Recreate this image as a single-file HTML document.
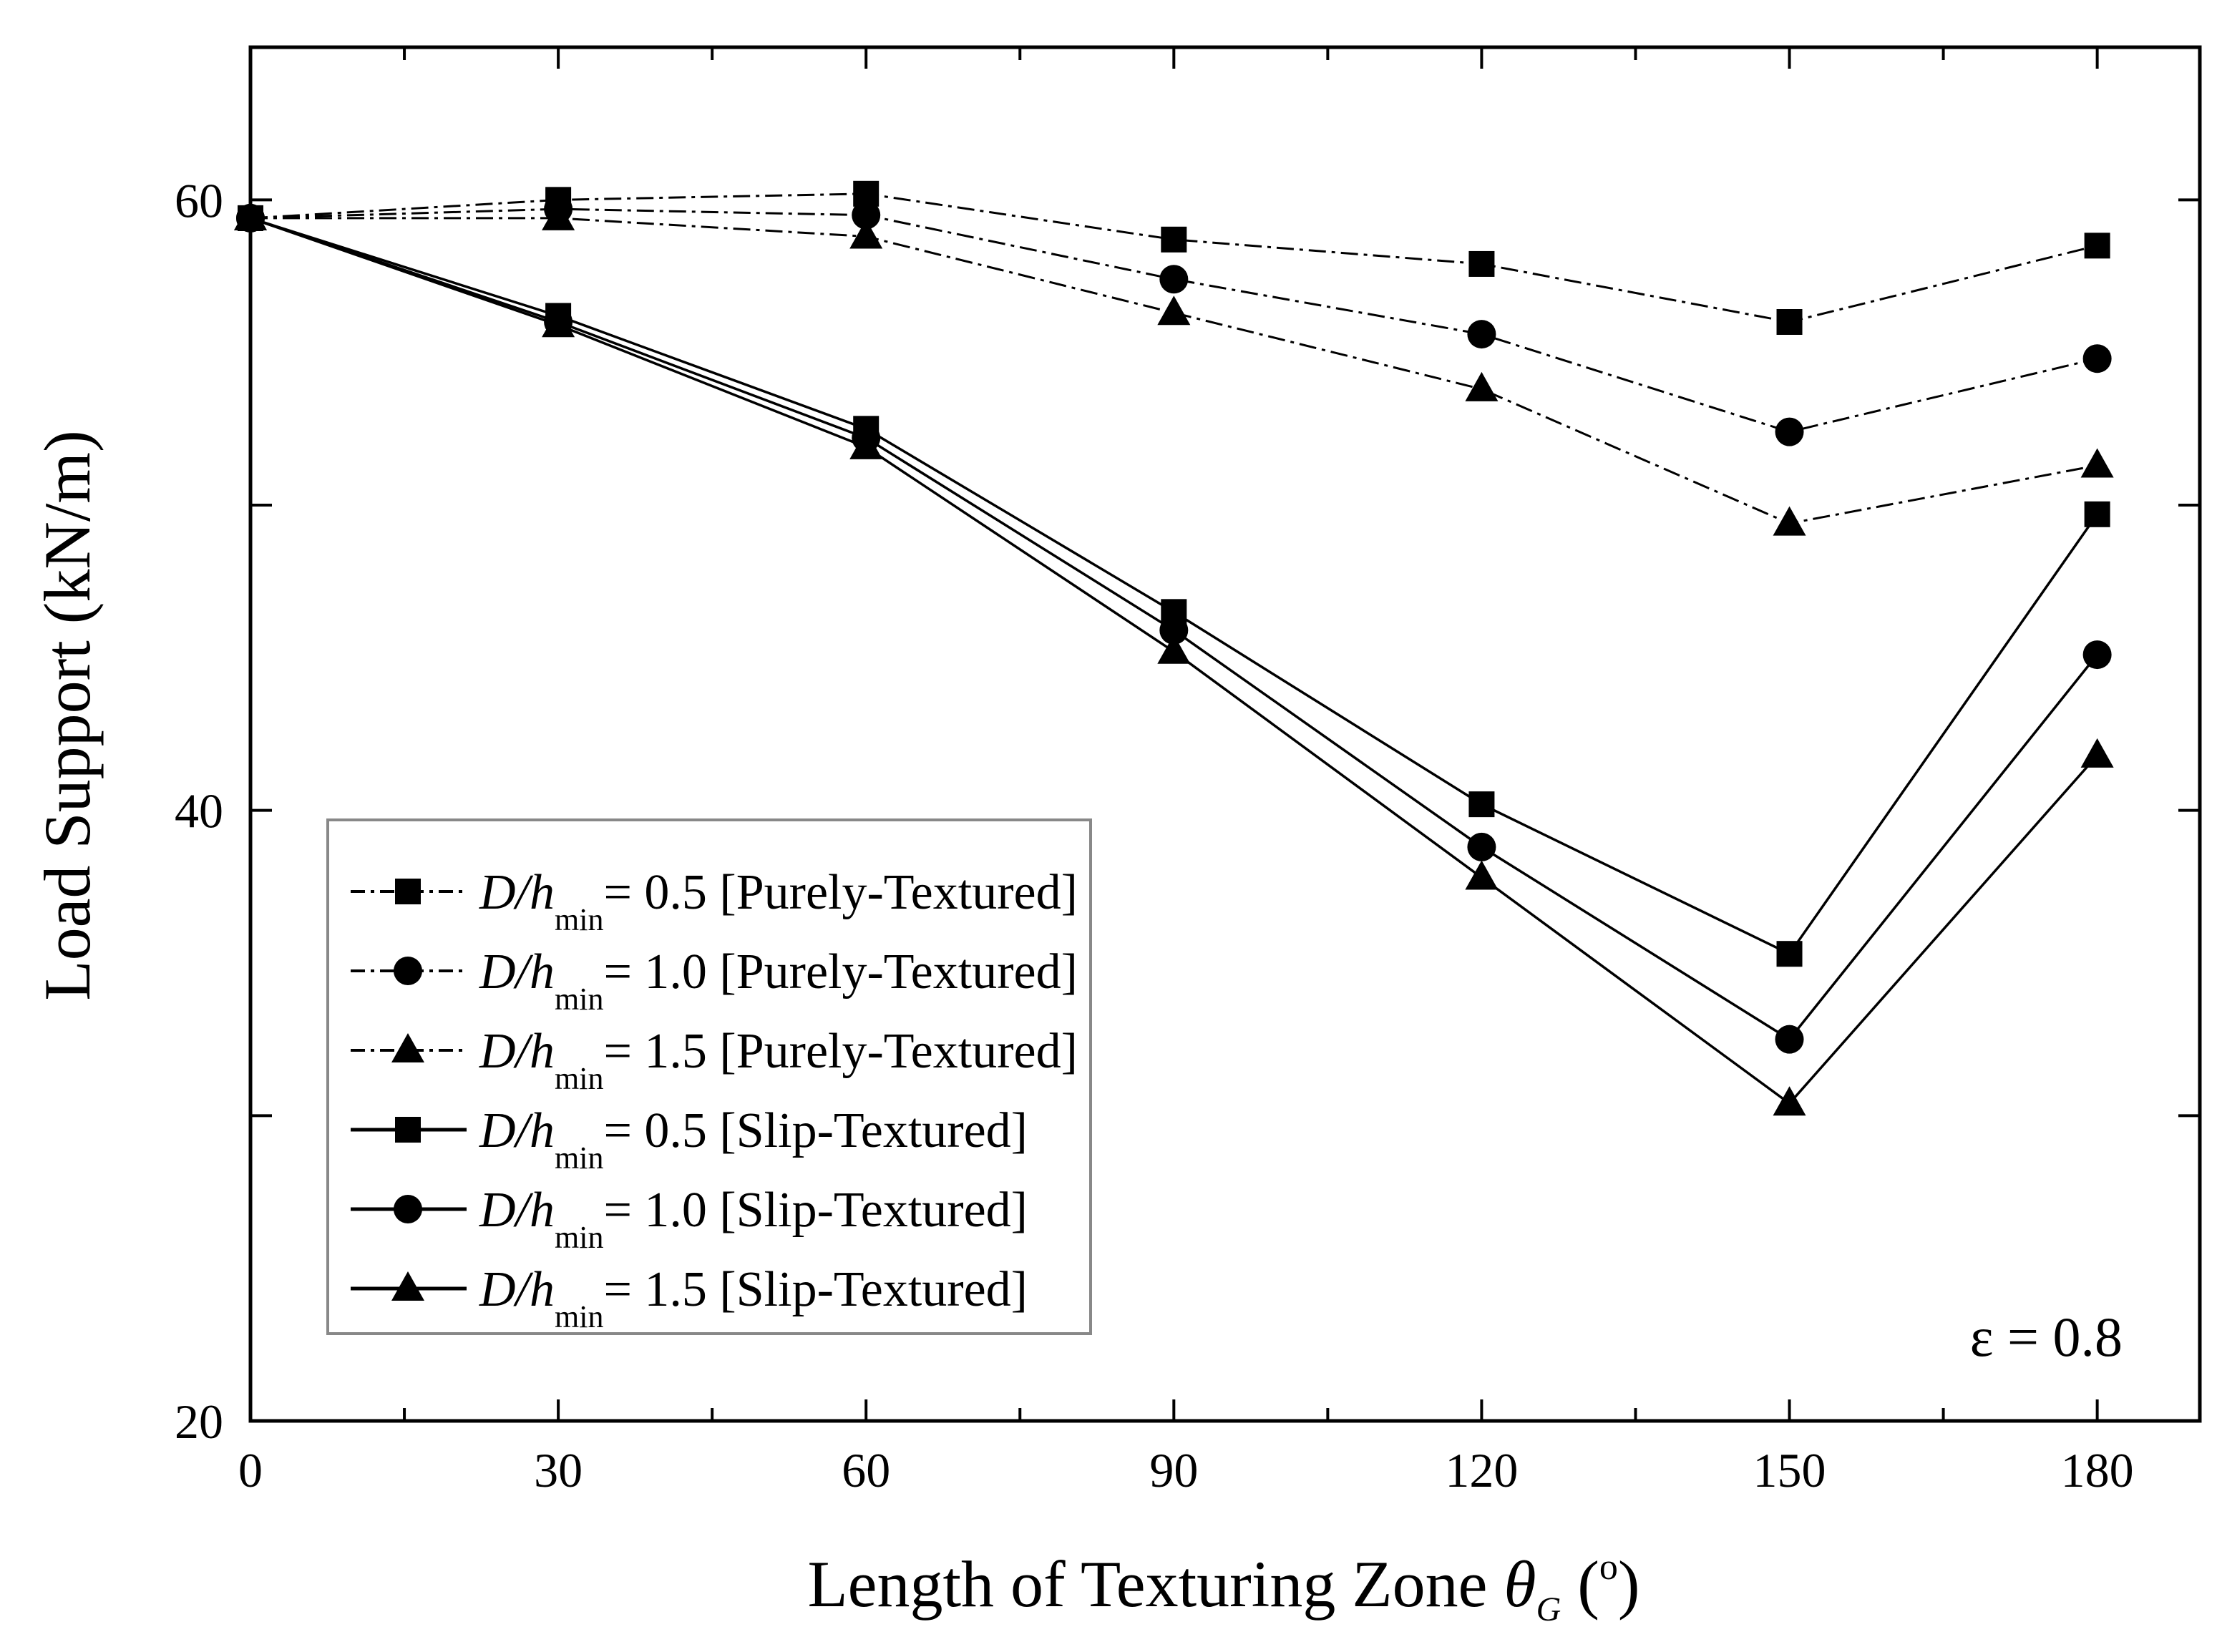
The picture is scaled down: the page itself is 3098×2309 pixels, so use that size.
<!DOCTYPE html>
<html><head><meta charset="utf-8"><style>
html,body{margin:0;padding:0;background:#fff;}
svg{display:block;font-family:"Liberation Serif",serif;}
</style></head><body>
<svg id="chart" width="3098" height="2309" viewBox="0 0 3098 2309" xmlns="http://www.w3.org/2000/svg">
<rect x="0" y="0" width="3098" height="2309" fill="#fff"/>
<g id="ticks"></g>
<g id="series"></g>
<rect x="350" y="66" width="2724" height="1920" fill="none" stroke="#000" stroke-width="5"/>
<text x="125" y="1000" font-size="92" text-anchor="middle" transform="rotate(-90 125 1000)">Load Support  (kN/m)</text>
<text x="1710" y="2245" font-size="92" text-anchor="middle">Length of Texturing Zone <tspan font-style="italic">θ</tspan><tspan font-style="italic" font-size="48" dy="20">G</tspan><tspan dy="-20">  (</tspan><tspan font-size="52" dy="-38">o</tspan><tspan dy="38">)</tspan></text>
<text x="2966" y="1895" font-size="78" text-anchor="end">ε = 0.8</text>
<g id="legend">
<rect x="458" y="1146" width="1066" height="718" fill="#fff" stroke="#888" stroke-width="4"/>
</g>
</svg>
<script>
const categories = [0, 30, 60, 90, 120, 150, 180];
const purely05 = [59.4, 60.0, 60.2, 58.7, 57.9, 56.0, 58.5];
const purely10 = [59.4, 59.7, 59.5, 57.4, 55.6, 52.4, 54.8];
const purely15 = [59.4, 59.4, 58.8, 56.3, 53.8, 49.4, 51.3];
const slip05 = [59.4, 56.2, 52.5, 46.5, 40.2, 35.3, 49.7];
const slip10 = [59.4, 56.0, 52.2, 45.9, 38.8, 32.5, 45.1];
const slip15 = [59.4, 55.9, 51.9, 45.2, 37.8, 30.4, 41.8];
const xTickLabels = [0, 30, 60, 90, 120, 150, 180];
const yTickLabels = [20, 40, 60];
const yMajorTicks = [20, 30, 40, 50, 60];
const seriesLabels = ["0.5 [Purely-Textured]","1.0 [Purely-Textured]","1.5 [Purely-Textured]","0.5 [Slip-Textured]","1.0 [Slip-Textured]","1.5 [Slip-Textured]"];

const NS="http://www.w3.org/2000/svg";
const L=350,R=3074,T=66,B=1986,XMIN=0,XMAX=190,YMIN=20,YMAX=65;
function xs(v){return L+(v-XMIN)/(XMAX-XMIN)*(R-L);}
function ys(v){return B-(v-YMIN)/(YMAX-YMIN)*(B-T);}
function mk(tag,attrs,parent){const e=document.createElementNS(NS,tag);for(const k in attrs)e.setAttribute(k,attrs[k]);parent.appendChild(e);return e;}

const tg=document.getElementById('ticks');
for(let v=0;v<=180;v+=15){
  const major=v%30===0, len=major?30:18;
  let t=mk('line',{x1:xs(v),x2:xs(v),y1:B,y2:B-len,stroke:'#000','stroke-width':4},tg);
  
  
  t=mk('line',{x1:xs(v),x2:xs(v),y1:T,y2:T+len,stroke:'#000','stroke-width':4},tg);
  
  
}
xTickLabels.forEach(v=>{
  const t=mk('text',{x:xs(v),y:2078,'font-size':68,'text-anchor':'middle'},tg);t.textContent=v;
  
  
});
yMajorTicks.forEach(v=>{
  let t=mk('line',{x1:L,x2:L+30,y1:ys(v),y2:ys(v),stroke:'#000','stroke-width':4},tg);
  
  
  t=mk('line',{x1:R,x2:R-30,y1:ys(v),y2:ys(v),stroke:'#000','stroke-width':4},tg);
  
  
});
yTickLabels.forEach(v=>{
  const t=mk('text',{x:312,y:ys(v)+24,'font-size':68,'text-anchor':'end'},tg);t.textContent=v;
  
  
});

function marker(g,type,x,y){
  let m;
  if(type==='sq') m=mk('rect',{x:x-18,y:y-18,width:36,height:36,fill:'#000'},g);
  else if(type==='ci') m=mk('circle',{cx:x,cy:y,r:20,fill:'#000'},g);
  else m=mk('polygon',{points:`${x},${y-24} ${x-23},${y+17} ${x+23},${y+17}`,fill:'#000'},g);
  
  
}
const sg=document.getElementById('series');
const all=[[purely05,'sq',true],[purely10,'ci',true],[purely15,'tr',true],[slip05,'sq',false],[slip10,'ci',false],[slip15,'tr',false]];
const dash='24,8,5,8';
all.forEach((s,i)=>{
  const g=mk('g',{},sg);
  
  
  const pts=s[0].map((v,j)=>xs(categories[j])+','+ys(v)).join(' ');
  const p=mk('polyline',{points:pts,fill:'none',stroke:'#000','stroke-width':s[2]?3:3.5},g);
  if(s[2])p.setAttribute('stroke-dasharray',dash);
  
  
  s[0].forEach((v,j)=>marker(g,s[1],xs(categories[j]),ys(v)));
});

const lg=document.getElementById('legend');
all.forEach((s,i)=>{
  const y=1246+i*111;
  const e=mk('g',{},lg);
  
  
  const ln=mk('line',{x1:490,x2:652,y1:y,y2:y,stroke:'#000','stroke-width':s[2]?4:5},e);
  if(s[2])ln.setAttribute('stroke-dasharray','20,8,5,8');
  marker(e,s[1],570,y);
  const t=mk('text',{x:670,y:y+24,'font-size':70},e);
  t.innerHTML='<tspan font-style="italic">D/h</tspan><tspan font-size="44" dy="30">min</tspan><tspan dy="-30">= '+seriesLabels[i]+'</tspan>';
});
</script>
</body></html>
